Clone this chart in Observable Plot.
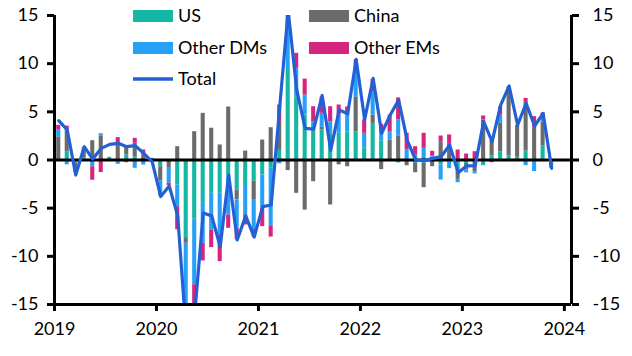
<!DOCTYPE html>
<html><head><meta charset="utf-8">
<script src="https://cdn.jsdelivr.net/npm/d3@7"></script>
<script src="https://cdn.jsdelivr.net/npm/@observablehq/plot@0.6"></script>
<style>html,body{margin:0;padding:0;background:#fff;} svg{display:block}</style>
</head><body><div id="chart"></div>
<script>
const seriesNames = ["US", "China", "Other DMs", "Other EMs"];
const startYear = 2019;
// monthly contributions, Jan 2019 .. Nov 2023
const us = [0, 0.86, -0.3, 0.2, 0, 0, 0.28, 0, 0.52, 0.35, 0, -0.2,
  -0.7, 0, -2.6, -8.06, -6.15, -4.5, -3.46, -3.46, -1.56, -3.1, -2.65, -2.2,
  -1.56, -0.8, 1.0, 9.5, 6.57, 4.67, 3.11, 3.11, 2.77, 2.77, 2.9, 2.9,
  1.21, 3.8, 2.0, 0, -0.3, 0, -0.35, -0.35, 0.3, -0.52, -0.2, -1.21,
  -0.35, 0, -0.59, 0.41, 0.86, 0.41, 0.28, 0.93, 0, 1.45, -0.3];
const china = [2.4, 2.25, -0.6, 0.8, 2.0, 2.45, 0, 1.73, 0.93, 1.38, 0.52, 0,
  -1.45, -0.86, 1.38, -0.59, 2.94, 4.84, 3.3, 1.56, 5.5, -1.04, 0.93, -1.9,
  2.07, 3.35, 2.9, -1.1, -3.46, -5.2, -2.25, 0.28, -4.67, -0.5, -0.7, 3.6,
  0, 0.86, -1.0, 2.05, 2.45, -0.6, -0.97, -2.52, -0.7, 1.9, 1.63, -0.8,
  -0.7, -1.21, 4.15, 1.6, 2.94, 7.2, 3.2, 5.05, 3.4, 2.5, -0.35];
const otherDMs = [0.7, -0.5, -0.4, 0.3, -0.7, 0.28, 0, -0.45, 0, -0.86, -0.52, 0.17,
  -1.62, -1.55, -2.25, -8.0, -6.8, -4.15, -3.8, -4.32, -4.15, -2.94, -3.05, -3.1,
  -3.46, -6.1, -0.4, 4.15, 2.94, 2.07, 0.86, 1.45, 1.2, 1.9, 1.9, 3.3,
  1.56, 2.42, 0.8, 0.9, 1.7, 1.04, 0.52, 1.21, 0.1, -1.56, -0.7, -0.35,
  -0.28, -0.24, 0, 0, 0.86, 0, 0, -0.59, -1.2, 0.52, -0.15];
const otherEMs = [0.5, 0.4, 0, 0, -1.4, -1.3, 0, 0.59, -0.28, 0.52, 0.52, 0,
  0, -0.25, -2.4, -1.5, -5.5, -1.83, -1.83, -2.77, -1.38, -1.2, -1.04, -0.8,
  -1.9, -1.1, 1.8, 3.0, 1.56, 1.66, 1.56, 1.7, 1.56, 1.04, 0.7, 0.6,
  1.4, 1.28, 0.9, 1.7, 2.3, 1.73, 0.86, 1.56, 0.5, 0.59, 0.97, 1.04,
  0.62, 0.86, 0.42, -0.28, 0.86, 0, 0.1, 0.41, 1.1, 0.41, -0.05];
const total = [4.08, 3.11, -1.56, 1.38, 0.1, 1.21, 1.62, 1.73, 1.38, 1.49, 0.69, -0.2,
  -3.8, -2.7, -5.8, -18, -16, -5.5, -5.8, -9.0, -1.56, -8.3, -5.8, -8.0,
  -4.84, -4.67, 5.5, 15.5, 7.3, 3.29, 3.2, 6.7, 1.0, 5.2, 4.8, 10.44,
  4.2, 8.47, 2.77, 4.67, 6.22, 2.07, 0.0, -0.07, 0.17, 0.35, 1.56, -1.31,
  -0.62, -0.59, 3.98, 1.9, 5.7, 7.68, 3.63, 5.88, 3.53, 4.84, -0.86];
const yTicks = [-15, -10, -5, 0, 5, 10, 15];
const xTicks = [2019, 2020, 2021, 2022, 2023, 2024];
const colors = ["#14b6a4", "#6b6b6b", "#27a0f7", "#d6247f"];
const lineColor = "#2360d6";

const seriesValues = [us, china, otherDMs, otherEMs];
const monthPos = i => startYear + (i + 0.5) / 12;
const halfBar = 0.24 / 12;
const rows = [];
total.forEach((_, i) => {
  seriesNames.forEach((s, k) => {
    rows.push({x1: monthPos(i) - halfBar, x2: monthPos(i) + halfBar, value: seriesValues[k][i], series: s});
  });
});
const totalRows = total.map((v, i) => ({x: monthPos(i), value: v}));
const font = "Lato, 'Noto Sans', sans-serif";

const chart = Plot.plot({
  width: 632, height: 356,
  marginLeft: 54, marginRight: 61, marginTop: 15, marginBottom: 52,
  style: {fontFamily: font, fontSize: "18px", color: "#000", background: "#fff", overflow: "visible"},
  x: {domain: [2019, 2024.07]},
  y: {domain: [-15, 15]},
  color: {domain: seriesNames, range: colors},
  marks: [
    Plot.rectY(rows, {x1: "x1", x2: "x2", y: "value", fill: "series", clip: true}),
    Plot.ruleY([0], {strokeWidth: 3, stroke: "#000"}),
    Plot.lineY(totalRows, {x: "x", y: "value", stroke: lineColor, strokeWidth: 3.2, clip: true}),
    Plot.ruleX([2019, 2024.07], {strokeWidth: 3, stroke: "#000"}),
    Plot.ruleY([-15], {strokeWidth: 3, stroke: "#000"}),
    Plot.axisY({ticks: yTicks, anchor: "left", tickSize: 7, tickPadding: 9, strokeWidth: 3, tickFormat: d => String(d), label: null, fontSize: 18}),
    Plot.axisY({ticks: yTicks, anchor: "right", tickSize: 7, tickPadding: 14, strokeWidth: 3, tickFormat: d => String(d), label: null, fontSize: 18}),
    Plot.axisX({ticks: xTicks, anchor: "bottom", tickSize: 7, tickPadding: 11, strokeWidth: 3, tickFormat: d => String(d), label: null, fontSize: 18})
  ]
});
document.getElementById("chart").appendChild(chart);

// legend
const svg = d3.select(chart);
const lg = svg.append("g").attr("font-family", font).attr("font-size", 18)
  .attr("fill", "#000").attr("text-anchor", "start");
const items = [
  {name: "US", color: colors[0], x: 133, y: 10},
  {name: "Other DMs", color: colors[2], x: 133, y: 42},
  {name: "China", color: colors[1], x: 309, y: 10},
  {name: "Other EMs", color: colors[3], x: 309, y: 42}
];
items.forEach(it => {
  lg.append("rect").attr("x", it.x).attr("y", it.y).attr("width", 40).attr("height", 12).attr("fill", it.color);
  lg.append("text").attr("x", it.x + 45).attr("y", it.y + 11.5).attr("text-anchor", "start").text(it.name);
});
lg.append("line").attr("x1", 133).attr("x2", 173).attr("y1", 79).attr("y2", 79)
  .attr("stroke", lineColor).attr("stroke-width", 3.5);
lg.append("text").attr("x", 178).attr("y", 85).attr("text-anchor", "start").text("Total");
</script>
</body></html>
